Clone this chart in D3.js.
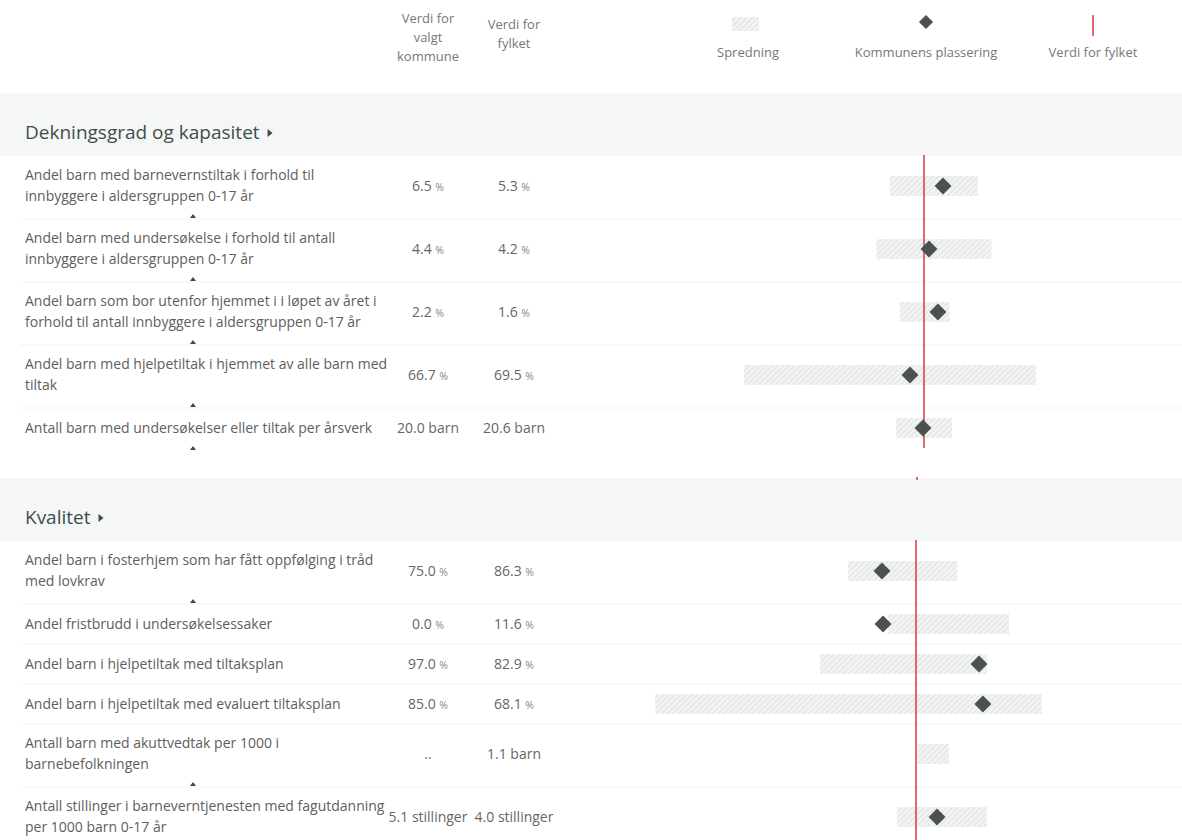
<!DOCTYPE html>
<html>
<head>
	<meta charset="utf-8">
	<title>Barnevern - kommune mot fylke</title>
	<style>
		body {
			margin: 0;
			background: #fff;
			font-family: "Open Sans", sans-serif;
		}
		.label { fill: #5e5e5e; font-size: 14px; }
		.value { fill: #666; font-size: 14px; text-anchor: middle; }
		.value .unit-pct { font-size: 10.5px; fill: #888; }
		.head { fill: #777; font-size: 13px; text-anchor: middle; }
		.section-title { fill: #3e4f4c; font-size: 19px; }
		.band { fill: #f5f6f6; }
		.sep { stroke: #f2f3f3; stroke-width: 1; }
		.fylke-line { stroke: #d9464b; stroke-width: 1.6; }
		.marker { fill: #4a5150; }
		.arrow { fill: #3f4a48; }
	</style>
</head>
<body>
	<div id="chart"></div>

	<script src="https://cdnjs.cloudflare.com/ajax/libs/d3/7.8.5/d3.min.js"></script>
	<script>
	// Settings
	var width  = 1182,
		height = 840,
		labelX = 25,
		kommuneColX = 428,
		fylkeColX   = 514,
		halfWidth   = 260,   // pixels either side of the county line
		bandHeight  = 63,
		linePitch   = 20

	// Data
	var sectionTitles = ["Dekningsgrad og kapasitet", "Kvalitet"]
	var sectionLineX  = [924, 916]

	var rowSection = [0, 0, 0, 0, 0, 1, 1, 1, 1, 1, 1]
	var rowLabels = [
		["Andel barn med barnevernstiltak i forhold til", "innbyggere i aldersgruppen 0-17 år"],
		["Andel barn med undersøkelse i forhold til antall", "innbyggere i aldersgruppen 0-17 år"],
		["Andel barn som bor utenfor hjemmet i i løpet av året i", "forhold til antall innbyggere i aldersgruppen 0-17 år"],
		["Andel barn med hjelpetiltak i hjemmet av alle barn med", "tiltak"],
		["Antall barn med undersøkelser eller tiltak per årsverk"],
		["Andel barn i fosterhjem som har fått oppfølging i tråd", "med lovkrav"],
		["Andel fristbrudd i undersøkelsessaker"],
		["Andel barn i hjelpetiltak med tiltaksplan"],
		["Andel barn i hjelpetiltak med evaluert tiltaksplan"],
		["Antall barn med akuttvedtak per 1000 i", "barnebefolkningen"],
		["Antall stillinger i barneverntjenesten med fagutdanning", "per 1000 barn 0-17 år"]
	]
	var rowArrow = [true, true, true, true, true, true, false, false, false, true, false]
	var units = ["%", "%", "%", "%", "barn", "%", "%", "%", "%", "barn", "stillinger"]

	var kommuneValues = [6.5, 4.4, 2.2, 66.7, 20.0, 75.0, 0.0, 97.0, 85.0, null, 5.1]
	var fylkeValues   = [5.3, 4.2, 1.6, 69.5, 20.6, 86.3, 11.6, 82.9, 68.1, 1.1, 4.0]
	var spreadMin     = [3.15, 2.3, 0.55, 33.5, 3.8, 63.7, 1.7, 61.4, 2.2, 1.15, 3.0]
	var spreadMax     = [8.7, 6.9, 2.7, 91.9, 37.4, 100.0, 44.3, 98.8, 99.9, 2.2, 7.7]
	// half-width of each indicator's scale, in its own units, around the county value
	var scaleSpan     = [16.4, 10.4, 11.2, 52, 156, 86.4, 91.5, 58.2, 65.7, 8.7, 13.6]

	var fmt = d3.format(".1f")

	// value cell: number plus unit (percent sign drawn a bit smaller)
	var writeValue = function(sel, v, unit){
		if (v == null){ sel.text(".."); return }
		sel.append("tspan").text(fmt(v) + " ")
		sel.append("tspan").attr("class", unit === "%" ? "unit-pct" : null).text(unit)
	}

	// The canvas
	var svg = d3.select("#chart").append("svg")
		.attr("width", width)
		.attr("height", height)

	var defs = svg.append("defs")
	var hatch = defs.append("pattern")
		.attr("id", "hatch")
		.attr("patternUnits", "userSpaceOnUse")
		.attr("width", 4).attr("height", 4)
		.attr("patternTransform", "rotate(45)")
	hatch.append("rect").attr("width", 4).attr("height", 4).attr("fill", "#f2f3f3")
	hatch.append("line").attr("x1", 0).attr("y1", 0).attr("x2", 0).attr("y2", 4)
		.attr("stroke", "#dcdfdf").attr("stroke-width", 1.6)

	var diamond = function(side){
		return d3.symbol().type(d3.symbolSquare).size(side * side)()
	}

	// Column headers
	var head = svg.append("g")
	;[["Verdi for", 18], ["valgt", 37], ["kommune", 56]].forEach(function(t){
		head.append("text").attr("class", "head").attr("x", kommuneColX).attr("y", t[1]).attr("dy", "0.35em").text(t[0])
	})
	;[["Verdi for", 24], ["fylket", 43]].forEach(function(t){
		head.append("text").attr("class", "head").attr("x", fylkeColX).attr("y", t[1]).attr("dy", "0.35em").text(t[0])
	})

	// Legend
	head.append("rect").attr("x", 732).attr("y", 17).attr("width", 27).attr("height", 14).attr("fill", "url(#hatch)")
	head.append("text").attr("class", "head").attr("x", 748).attr("y", 52).attr("dy", "0.35em").text("Spredning")
	head.append("path").attr("class", "marker").attr("d", diamond(10))
		.attr("transform", "translate(926,22) rotate(45)")
	head.append("text").attr("class", "head").attr("x", 926).attr("y", 52).attr("dy", "0.35em").text("Kommunens plassering")
	head.append("line").attr("class", "fylke-line").attr("stroke-width", 2)
		.attr("x1", 1093).attr("x2", 1093).attr("y1", 15).attr("y2", 36)
	head.append("text").attr("class", "head").attr("x", 1093).attr("y", 52).attr("dy", "0.35em").text("Verdi for fylket")

	// Layout: work out where each section band and row goes
	var rowCenter = [], bands = []
	var y = 93
	sectionTitles.forEach(function(title, s){
		var idx = d3.range(rowSection.length).filter(function(i){ return rowSection[i] === s })
		var band = { top: y, bottom: y + bandHeight, rows: idx }
		bands.push(band)
		var c = band.bottom + 30
		idx.forEach(function(i, k){
			rowCenter[i] = c
			if (k < idx.length - 1){
				var next = idx[k + 1]
				c += rowLabels[i].length * linePitch / 2 + (rowArrow[i] ? 3 : 0) + 20 + rowLabels[next].length * linePitch / 2
			}
		})
		band.last = c
		y = c + 50
	})

	// Section bands and titles
	bands.forEach(function(b, s){
		svg.append("rect").attr("class", "band")
			.attr("x", 0).attr("y", b.top).attr("width", width).attr("height", bandHeight)
		var t = svg.append("text").attr("class", "section-title")
			.attr("x", labelX).attr("y", b.top + 39).attr("dy", "0.35em")
			.text(sectionTitles[s])
		var tw = t.node().getComputedTextLength()
		svg.append("path").attr("fill", "#3e4f4c")
			.attr("d", "M0,-4 L5,0 L0,4 Z")
			.attr("transform", "translate(" + (labelX + tw + 8) + "," + (b.top + 40) + ")")
	})

	// Faint row separators
	rowLabels.forEach(function(lines, i){
		var s = rowSection[i]
		if (bands[s].rows[bands[s].rows.length - 1] === i) return
		var sy = rowCenter[i] + lines.length * linePitch / 2 + (rowArrow[i] ? 3 : 0) + 10
		svg.append("line").attr("class", "sep")
			.attr("x1", 20).attr("x2", width).attr("y1", sy).attr("y2", sy)
	})

	// Rows
	rowLabels.forEach(function(lines, i){
		var cy = rowCenter[i]
		var cx = sectionLineX[rowSection[i]]
		var g = svg.append("g")

		lines.forEach(function(line, k){
			g.append("text").attr("class", "label")
				.attr("x", labelX)
				.attr("y", cy + (k - (lines.length - 1) / 2) * (linePitch + 1))
				.attr("dy", "0.35em")
				.text(line)
		})
		if (rowArrow[i]){
			g.append("path").attr("class", "arrow")
				.attr("d", "M-3,2 L0,-2 L3,2 Z")
				.attr("transform", "translate(193," + (cy + lines.length * linePitch / 2 + 10) + ")")
		}

		writeValue(g.append("text").attr("class", "value").attr("x", kommuneColX).attr("y", cy).attr("dy", "0.35em"),
			kommuneValues[i], units[i])
		writeValue(g.append("text").attr("class", "value").attr("x", fylkeColX).attr("y", cy).attr("dy", "0.35em"),
			fylkeValues[i], units[i])

		// Per-indicator scale, centred on the county value
		var x = d3.scaleLinear()
			.domain([fylkeValues[i] - scaleSpan[i], fylkeValues[i] + scaleSpan[i]])
			.range([cx - halfWidth, cx + halfWidth])

		g.append("rect")
			.attr("x", x(spreadMin[i]))
			.attr("y", cy - 10)
			.attr("width", x(spreadMax[i]) - x(spreadMin[i]))
			.attr("height", 20)
			.attr("fill", "url(#hatch)")
	})

	// County lines, one per section
	bands.forEach(function(b, s){
		var cx = sectionLineX[s]
		var y2 = s === bands.length - 1 ? height : b.last + 20
		svg.append("line").attr("class", "fylke-line")
			.attr("x1", cx).attr("x2", cx).attr("y1", b.bottom - 1).attr("y2", y2)
		if (s > 0){
			svg.append("line").attr("class", "fylke-line")
				.attr("x1", cx + 1).attr("x2", cx + 1).attr("y1", b.top - 1).attr("y2", b.top + 2)
		}
	})

	// Kommune markers on top
	rowLabels.forEach(function(lines, i){
		if (kommuneValues[i] == null) return
		var cx = sectionLineX[rowSection[i]]
		var x = d3.scaleLinear()
			.domain([fylkeValues[i] - scaleSpan[i], fylkeValues[i] + scaleSpan[i]])
			.range([cx - halfWidth, cx + halfWidth])
		svg.append("path").attr("class", "marker")
			.attr("d", diamond(12))
			.attr("transform", "translate(" + x(kommuneValues[i]) + "," + rowCenter[i] + ") rotate(45)")
	})
	</script>
</body>
</html>
